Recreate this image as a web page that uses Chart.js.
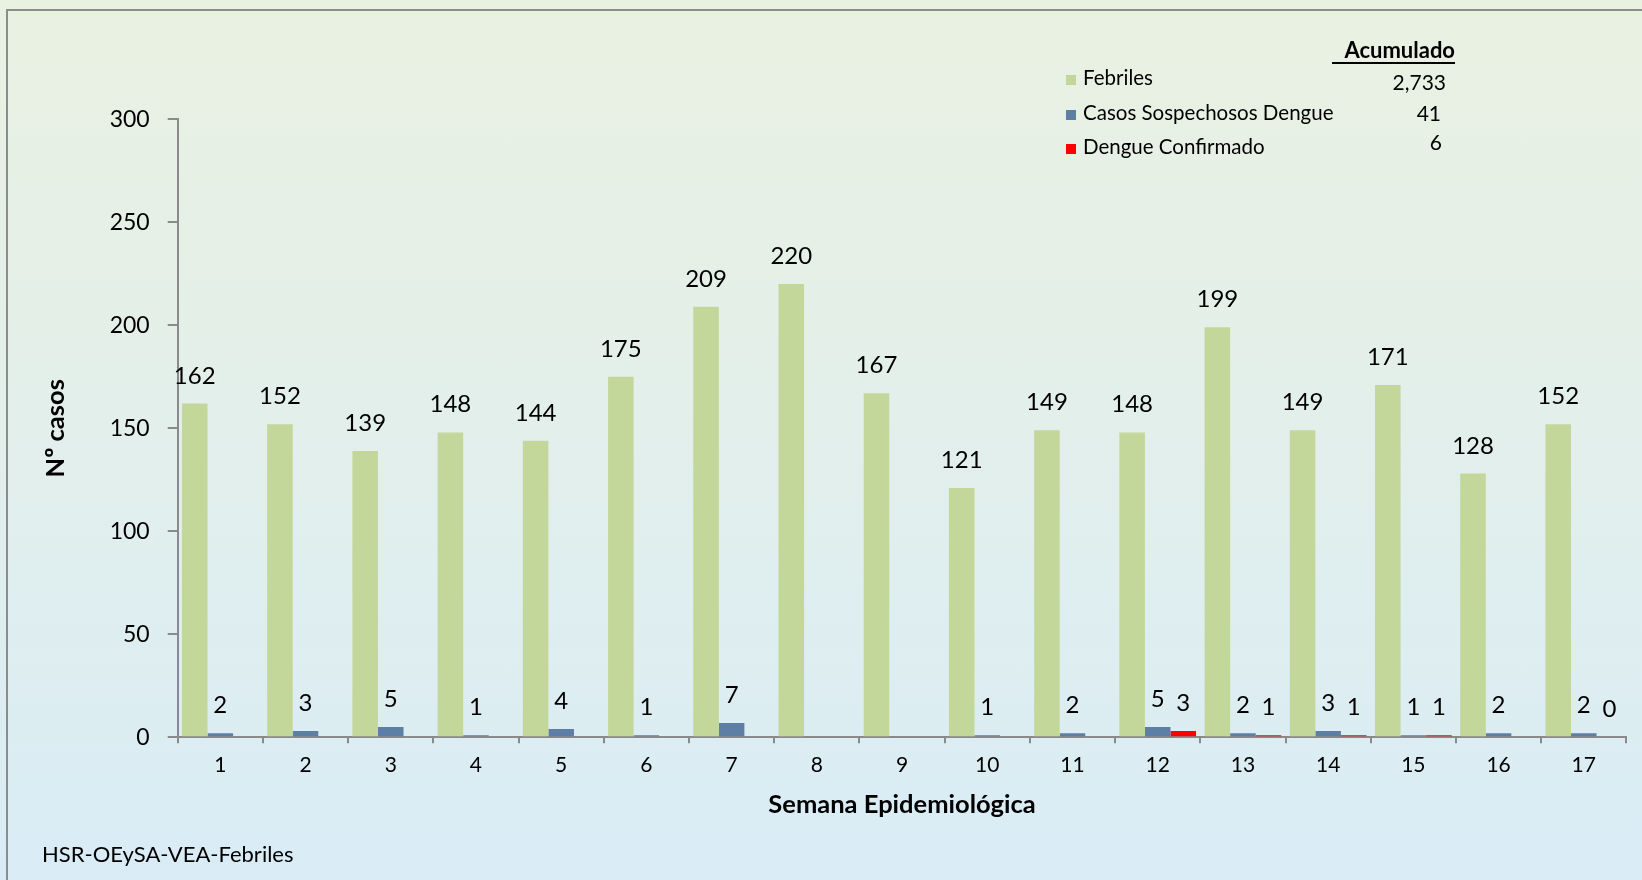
<!DOCTYPE html>
<html>
<head>
<meta charset="utf-8">
<script src="https://cdn.jsdelivr.net/npm/chart.js@4"></script>
<style>
  html, body { margin: 0; padding: 0; }
  body {
    width: 1642px; height: 880px; overflow: hidden; position: relative;
    background: linear-gradient(to bottom, #e9f1e1 0%, #e3efea 45%, #d9ecf6 100%);
  }
  #frame {
    position: absolute; left: 6px; top: 9px; width: 1700px; height: 950px;
    border: 2px solid #8c8c8c; box-sizing: border-box;
  }
  #c { position: absolute; left: 0; top: 0; }
</style>
</head>
<body>
<div id="frame"></div>
<canvas id="c" width="1642" height="880"></canvas>
<script>
// ---- Data ----
const weeks = ['1','2','3','4','5','6','7','8','9','10','11','12','13','14','15','16','17'];
const febriles    = [162,152,139,148,144,175,209,220,167,121,149,148,199,149,171,128,152];
const sospechosos = [2,3,5,1,4,1,7,null,null,1,2,5,2,3,1,2,2];
const confirmados = [null,null,null,null,null,null,null,null,null,null,null,3,1,1,1,null,0];
const seriesNames = ['Febriles','Casos Sospechosos Dengue','Dengue Confirmado'];
const acumulados  = ['2,733','41','6'];
const yTicks = [0,50,100,150,200,250,300];
const colors = ['#c4d79b','#5e7fa5','#ff0000'];

const FONT = 'Lato, "Noto Sans", sans-serif';

const labelsPlugin = {
  id: 'valueLabels',
  afterDatasetsDraw(chart) {
    const ctx = chart.ctx;
    ctx.save();
    ctx.font = '24px ' + FONT;
    ctx.fillStyle = '#000';
    ctx.textAlign = 'center';
    ctx.textBaseline = 'alphabetic';
    chart.data.datasets.forEach((ds, i) => {
      const meta = chart.getDatasetMeta(i);
      meta.data.forEach((bar, j) => {
        const v = ds.data[j];
        if (v === null || v === undefined) return;
        ctx.fillText(String(v), bar.x, bar.y - 20);
      });
    });
    ctx.restore();
  }
};

const legendPlugin = {
  id: 'customLegend',
  afterDraw(chart) {
    const ctx = chart.ctx;
    ctx.save();
    ctx.fillStyle = '#000';
    // header
    ctx.font = 'bold 22px ' + FONT;
    ctx.textAlign = 'right';
    ctx.textBaseline = 'alphabetic';
    ctx.fillText('Acumulado', 1455, 58);
    ctx.fillRect(1332, 62, 123, 2);
    const baselines = [85, 120, 154];
    const valueRight = [1446, 1441, 1442];
    const valueBase = [90, 121, 150];
    seriesNames.forEach((name, i) => {
      ctx.fillStyle = colors[i];
      ctx.fillRect(1066, baselines[i] - 10, 10, 10);
      ctx.fillStyle = '#000';
      ctx.font = '20.5px ' + FONT;
      ctx.textAlign = 'left';
      ctx.fillText(name, 1083, baselines[i]);
      ctx.font = '21px ' + FONT;
      ctx.textAlign = 'right';
      ctx.fillText(acumulados[i], valueRight[i], valueBase[i]);
    });
    // footer
    ctx.textAlign = 'left';
    ctx.font = '22px ' + FONT;
    ctx.fillText('HSR-OEySA-VEA-Febriles', 42, 862);
    ctx.restore();
  }
};

function build() {
  Chart.defaults.font.family = FONT;
  Chart.defaults.color = '#000';
  new Chart(document.getElementById('c'), {
    type: 'bar',
    data: {
      labels: weeks,
      datasets: [
        { label: seriesNames[0], data: febriles, backgroundColor: colors[0] },
        { label: seriesNames[1], data: sospechosos, backgroundColor: colors[1] },
        { label: seriesNames[2], data: confirmados, backgroundColor: colors[2] }
      ]
    },
    options: {
      responsive: false,
      animation: false,
      devicePixelRatio: 1,
      datasets: { bar: { categoryPercentage: 0.9, barPercentage: 1.0 } },
      layout: { padding: { left: 0, right: 15.6, top: 119.3, bottom: 52.7 } },
      plugins: { legend: { display: false }, tooltip: { enabled: false } },
      scales: {
        x: {
          afterFit(s) { s.height = 90; },
          grid: { display: true, drawOnChartArea: false, drawTicks: true, tickLength: 6, color: '#8a8a8a', lineWidth: 2, offset: true },
          border: { display: true, color: '#8a8a8a', width: 2 },
          ticks: { font: { size: 21 }, color: '#000', padding: 9, maxRotation: 0 },
          title: { display: true, text: 'Semana Epidemiológica', font: { size: 25.5, weight: 'bold' }, color: '#000', padding: { top: 0, bottom: 7 } }
        },
        y: {
          min: 0, max: 300,
          afterFit(s) { s.width = 177.7; },
          afterBuildTicks(s) { s.ticks = yTicks.map(v => ({ value: v })); },
          grid: { display: true, drawOnChartArea: false, drawTicks: true, tickLength: 10, color: '#8a8a8a', lineWidth: 2 },
          border: { display: true, color: '#8a8a8a', width: 2 },
          ticks: { font: { size: 23 }, color: '#000', padding: 18 },
          title: { display: true, text: 'Nº casos', font: { size: 25.5, weight: 'bold' }, color: '#000', padding: { top: 40, bottom: 0 } }
        }
      }
    },
    plugins: [labelsPlugin, legendPlugin]
  });
}

Promise.all([
  document.fonts.load('20px Lato'),
  document.fonts.load('bold 20px Lato')
]).then(build, build);
</script>
</body>
</html>
